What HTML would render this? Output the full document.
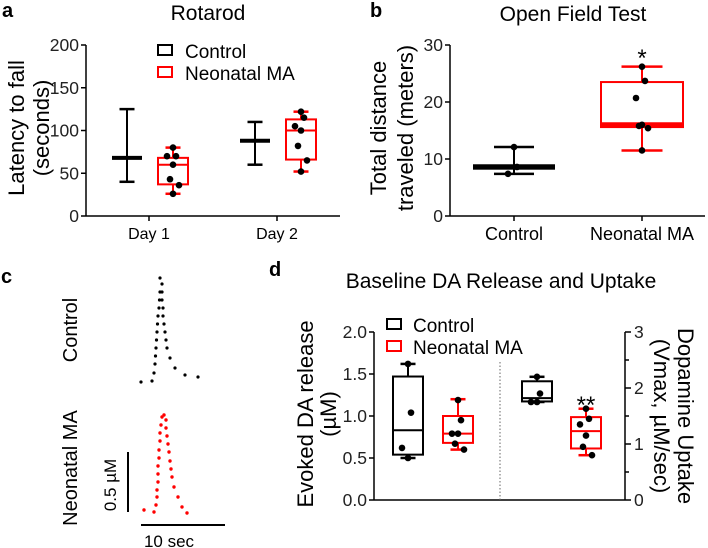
<!DOCTYPE html>
<html><head><meta charset="utf-8"><style>
body{margin:0;background:#fff;}
svg{display:block;font-family:"Liberation Sans",Arial,sans-serif;}
</style></head><body>
<svg id="s" width="708" height="548" viewBox="0 0 708 548" xmlns="http://www.w3.org/2000/svg">
<g font-weight="bold" font-size="20">
<text x="2" y="17">a</text>
<text x="370" y="17">b</text>
<text x="1" y="283">c</text>
<text x="269" y="276">d</text>
</g>
<g font-size="21" text-anchor="middle">
<text x="208" y="20">Rotarod</text>
<text x="573" y="21">Open Field Test</text>
<text x="501" y="288">Baseline DA Release and Uptake</text>
</g>
<g id="g"></g>
</svg>
<script>
// Panel a data (Rotarod)
const rotCats=["Day 1","Day 2"];
const rotTicks=[0,50,100,150,200];
const rotCtrl=[{min:40,q1:68,med:68,q3:68,max:125,pts:[]},{min:60,q1:88,med:88,q3:88,max:110,pts:[]}];
const rotMA=[{min:26,q1:37,med:60,q3:68,max:80,pts:[80,70,70,60,43,36,26]},{min:52,q1:66,med:100,q3:113,max:122,pts:[122,115,105,100,82,65,52]}];
// Panel b data (Open field)
const ofCats=["Control","Neonatal MA"];
const ofTicks=[0,10,20,30];
const ofBoxes=[{min:7.4,q1:8.3,med:8.6,q3:8.9,max:12.1,pts:[12.1,8.6,7.4]},{min:11.5,q1:15.6,med:16,q3:23.5,max:26.2,pts:[26.2,23.7,20.7,16,15.8,15.4,11.5]}];
// Panel d data
const dLeftTicks=["0.0","0.5","1.0","1.5","2.0"];
const dRightTicks=[0,1,2,3];
const relCtrl={min:0.5,q1:0.54,med:0.83,q3:1.47,max:1.62,pts:[1.62,1.04,0.62,0.5]};
const relMA={min:0.6,q1:0.68,med:0.79,q3:1.0,max:1.2,pts:[1.19,0.95,0.79,0.79,0.67,0.6]};
const upCtrl={min:1.75,q1:1.76,med:1.82,q3:2.12,max:2.2,pts:[2.2,1.9,1.75,1.75]};
const upMA={min:0.8,q1:0.92,med:1.23,q3:1.48,max:1.63,pts:[1.63,1.45,1.35,1.15,0.95,0.8]};
// Panel c traces (time, signal)
const ctrlTraceX=[141,152,154,155,155.5,156,156.5,157,157.5,158,159,159.5,160,160,162,162,162,163,163,164,165,166,167,170,175,185,198];
const ctrlTraceY=[382,381,373,364,356,348,340,332,324,316,308,300,292,278,284,292,300,308,316,324,332,340,348,358,368,375,377];
const maTraceX=[144,154,156,157,157,158,158,158,159,159,160,160,161,162,164,166,166,167,168,169,170,171,172,174,178,182,187];
const maTraceY=[510,512,505,497,490,482,474,466,458,450,441,433,425,417,415,420,428,436,444,452,461,469,477,487,497,507,513];

const NS="http://www.w3.org/2000/svg";const G=document.getElementById('g');
function mk(t,a,name,par){const e=document.createElementNS(NS,t);for(const k in a)e.setAttribute(k,a[k]);


(par||G).appendChild(e);return e;}
function line(x1,y1,x2,y2,c,w,name,extra){return mk('line',Object.assign({x1,y1,x2,y2,stroke:c,'stroke-width':w},extra||{}),name);}
function txt(x,y,s,name,extra){const e=mk('text',Object.assign({x,y,'font-size':17},extra||{}),name);e.textContent=s;return e;}
function box(b,cx,w,Y,c,name,thick){
  line(cx,Y(b.min),cx,Y(b.q1),c,2,name+'-whisker-low');
  line(cx,Y(b.q3),cx,Y(b.max),c,2,name+'-whisker-high');
  line(cx-w/4,Y(b.min),cx+w/4,Y(b.min),c,2.5,name+'-cap-low');
  line(cx-w/4,Y(b.max),cx+w/4,Y(b.max),c,2.5,name+'-cap-high');
  if(b.q3-b.q1>0.001*Math.abs(b.max)) mk('rect',{x:cx-w/2,y:Y(b.q3),width:w,height:Y(b.q1)-Y(b.q3),fill:'none',stroke:c,'stroke-width':2},name+'-box');
  line(cx-w/2,Y(b.med),cx+w/2,Y(b.med),c,thick||2,name+'-median');
  b.pts.forEach((p,i)=>{const off=(i%2?1:-1)*((i%3)*3);mk('circle',{cx:cx+off,cy:Y(p),r:3.3,fill:'#000'},name+'-point');});
}
function yAxis(x,y0,y1,ticks,Y,lab,name,right){
  line(x,y0,x,y1,'#000',1.5,name);
  ticks.forEach(t=>{const v=+t;const yy=Y(v);line(x,yy,right?x+5:x-5,yy,'#000',1.5,name+'-tick');
   txt(right?x+9:x-7,yy+6,String(t),name+'-tick-label',{'text-anchor':right?'start':'end','font-size':17.5,fill:'#222'});});
}
// ---------- Panel a
{const Y=v=>216-v*171/200;const X=[149,277];
yAxis(86,216,45,rotTicks,Y,null,'rotarod-y-axis');
line(86,216,340,216,'#000',1.5,'rotarod-x-axis');
rotCats.forEach((c,i)=>{line(X[i],216,X[i],221,'#000',1.5,'rotarod-x-tick');txt(X[i],239,c,'rotarod-x-label',{'text-anchor':'middle','font-size':16});
 box(rotCtrl[i],X[i]-22,30,Y,'#000','rotarod-control-'+(i+1),4);
 box(rotMA[i],X[i]+24,30,Y,'#f00','rotarod-ma-'+(i+1));});
const t=txt(0,0,'',"rotarod-y-title",{transform:'translate(24,128) rotate(-90)','text-anchor':'middle','font-size':22});
t.innerHTML='<tspan x="0" dy="0">Latency to fall</tspan><tspan x="0" dy="25">(seconds)</tspan>';
mk('rect',{x:158,y:45,width:14,height:10,fill:'none',stroke:'#000','stroke-width':2},'legend-control-swatch');
mk('rect',{x:158,y:67,width:14,height:10,fill:'none',stroke:'#f00','stroke-width':2},'legend-ma-swatch');
txt(185,58,'Control','legend-control-label',{'font-size':19});txt(185,80,'Neonatal MA','legend-ma-label',{'font-size':19});
}
// ---------- Panel b
{const Y=v=>216-v*171/30;const X=[514,642];
yAxis(450,216,45,ofTicks,Y,null,'of-y-axis');
line(450,216,705,216,'#000',1.5,'of-x-axis');
ofCats.forEach((c,i)=>{line(X[i],216,X[i],221,'#000',1.5,'of-x-tick');txt(X[i],240,c,'of-x-label',{'text-anchor':'middle','font-size':18});});
box(ofBoxes[0],X[0],80,Y,'#000','of-control',5);
box(ofBoxes[1],X[1],82,Y,'#f00','of-ma',5);
txt(642,66,'*','of-significance',{'text-anchor':'middle','font-size':24});
const t=txt(0,0,'','of-y-title',{transform:'translate(386,128) rotate(-90)','text-anchor':'middle','font-size':22});
t.innerHTML='<tspan x="0" dy="0">Total distance</tspan><tspan x="0" dy="27">traveled (meters)</tspan>';
}
// ---------- Panel c
{ctrlTraceX.forEach((x,i)=>mk('circle',{cx:x,cy:ctrlTraceY[i],r:1.6,fill:'#000'},'control-trace-point'));
maTraceX.forEach((x,i)=>mk('circle',{cx:x,cy:maTraceY[i],r:1.7,fill:'#f00'},'ma-trace-point'));
line(128,452,128,512,'#000',2,'scale-bar-vertical');line(141,525,225,525,'#000',2,'scale-bar-horizontal');
txt(0,0,'0.5 µM','scale-label-um',{transform:'translate(116,485) rotate(-90)','text-anchor':'middle','font-size':17});
txt(169,547,'10 sec','scale-label-sec',{'text-anchor':'middle','font-size':17});
txt(0,0,'Control','control-trace-label',{transform:'translate(77,330) rotate(-90)','text-anchor':'middle','font-size':20});
txt(0,0,'Neonatal MA','ma-trace-label',{transform:'translate(77,468) rotate(-90)','text-anchor':'middle','font-size':20});
}
// ---------- Panel d
{const YL=v=>500-v*168/2;const YR=v=>500-v*168/3;
yAxis(374,500,332,dLeftTicks,YL,null,'release-y-axis');
line(374,500,625,500,'#000',1.5,'d-x-axis');
line(625,500,625,332,'#000',1.5,'uptake-y-axis');
dRightTicks.forEach(t=>{line(625,YR(t),631,YR(t),'#000',1.5,'uptake-tick');txt(634,YR(t)+6,String(t),'uptake-tick-label',{'font-size':17.5,fill:'#222'});});
[0.5,1.5,2.5].forEach(t=>line(625,YR(t),629,YR(t),'#000',1.5,'uptake-minor-tick'));
line(500,362,500,500,'#666',1,'divider-line',{'stroke-dasharray':'1.5,2'});
box(relCtrl,408,30,YL,'#000','release-control');
box(relMA,458,30,YL,'#f00','release-ma');
box(upCtrl,537,30,YR,'#000','uptake-control');
box(upMA,586,30,YR,'#f00','uptake-ma');
txt(586,413,'**','uptake-significance',{'text-anchor':'middle','font-size':24});
const t=txt(0,0,'','release-y-title',{transform:'translate(313,414) rotate(-90)','text-anchor':'middle','font-size':22});
t.innerHTML='<tspan x="0" dy="0">Evoked DA release</tspan><tspan x="0" dy="23">(µM)</tspan>';
const t2=txt(0,0,'','uptake-y-title',{transform:'translate(678,416) rotate(90)','text-anchor':'middle','font-size':22});
t2.innerHTML='<tspan x="0" dy="0">Dopamine Uptake</tspan><tspan x="0" dy="24">(Vmax, µM/sec)</tspan>';
mk('rect',{x:387,y:319,width:14,height:10,fill:'none',stroke:'#000','stroke-width':2},'d-legend-control-swatch');
mk('rect',{x:387,y:341,width:14,height:10,fill:'none',stroke:'#f00','stroke-width':2},'d-legend-ma-swatch');
txt(413,332,'Control','d-legend-control-label',{'font-size':19});txt(413,354,'Neonatal MA','d-legend-ma-label',{'font-size':19});
}
</script>
</body></html>
